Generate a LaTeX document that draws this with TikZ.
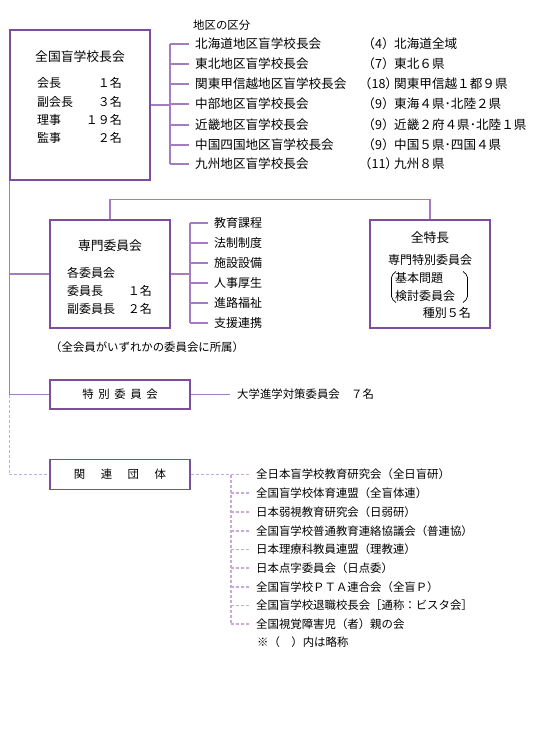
\documentclass[tikz,border=0pt]{standalone}
\usepackage{fontspec}
\setmainfont{Noto Sans CJK JP}
\definecolor{boxc}{HTML}{7E4E9E}
\definecolor{linec}{HTML}{A57BC1}
\definecolor{dashc}{HTML}{C9A9D9}
\begin{document}
\begin{tikzpicture}[x=1pt,y=-1pt, font=\fontsize{11.4}{13}\selectfont,
  box/.style={draw=boxc, line width=1.1pt, inner sep=0pt},
  ln/.style={draw=linec, line width=1.2pt},
  dl/.style={draw=dashc, line width=1.1pt, dash pattern=on 3pt off 2pt},
  txt/.style={inner sep=0pt, text height=9.8pt, text depth=1.4pt},
  lbl/.style={txt, anchor=west},
  lblr/.style={txt, anchor=east},
  ttl/.style={font=\fontsize{12.8}{14}\selectfont},
  itm/.style={font=\fontsize{12}{14}\selectfont},
  dst/.style={font=\fontsize{12.6}{14}\selectfont}]
\useasboundingbox (0,0) rectangle (540,730);
\fill[white] (0,0) rectangle (540,730);

% ---- main box
\node[box, minimum width=140pt, minimum height=150pt] (main) at (80,105) {};
\node[txt, ttl] (mt) at (80,57) {全国盲学校長会};
\node[lbl, itm] (m1) at (37,83) {会長};   \node[lblr, itm] (m1n) at (122,83) {１名};
\node[lbl, itm] (m2) at (37,102) {副会長}; \node[lblr, itm] (m2n) at (122,102) {３名};
\node[lbl, itm] (m3) at (37,120) {理事};   \node[lblr, itm] (m3n) at (122,120) {１９名};
\node[lbl, itm] (m4) at (37,138) {監事};   \node[lblr, itm] (m4n) at (122,138) {２名};

% ---- districts
\node[lbl] (dh) at (193,25) {地区の区分};
\coordinate (bus1) at (170,0);
\foreach \i/\y/\n/\p/\r in {
  1/44/北海道地区盲学校長会/（4）/北海道全域,
  2/64/東北地区盲学校長会/（7）/東北６県,
  3/84/関東甲信越地区盲学校長会/（18）/関東甲信越１都９県,
  4/104/中部地区盲学校長会/（9）/東海４県･北陸２県,
  5/125/近畿地区盲学校長会/（9）/近畿２府４県･北陸１県,
  6/145/中国四国地区盲学校長会/（9）/中国５県･四国４県,
  7/164/九州地区盲学校長会/（11）/九州８県}{
  \node[lbl, dst] (d\i) at (195,\y) {\n};
  \node[txt, dst] (dp\i) at (378.5,\y) {\p};
  \node[lbl, dst] (dr\i) at (394,\y) {\r};
  \draw[ln] (d\i.west -| bus1) -- ([xshift=-6pt]d\i.west);
}
\draw[ln] (d1.west -| bus1) -- (d7.west -| bus1);
\draw[ln] (main.east) -- (main.east -| bus1);

% ---- senmon iinkai
\node[box, minimum width=120pt, minimum height=108pt] (senmon) at (110,274) {};
\node[txt, ttl] (st) at (110,246) {専門委員会};
\node[lbl, itm] (s1) at (67,273) {各委員会};
\node[lbl, itm] (s2) at (67,291) {委員長};   \node[lblr, itm] (s2n) at (152,291) {１名};
\node[lbl, itm] (s3) at (67,309) {副委員長}; \node[lblr, itm] (s3n) at (152,309) {２名};
\node[lbl] (snote) at (50,347) {（全会員がいずれかの委員会に所属）};

\coordinate (bus2) at (190,0);
\foreach \i/\y/\n in {1/223/教育課程,2/243/法制制度,3/263/施設設備,4/283/人事厚生,5/303/進路福祉,6/323/支援連携}{
  \node[lbl, itm] (e\i) at (214,\y) {\n};
  \draw[ln] (e\i.west -| bus2) -- ([xshift=-6pt]e\i.west);
}
\draw[ln] (e1.west -| bus2) -- (e6.west -| bus2);
\draw[ln] (senmon.east) -- (senmon.east -| bus2);

% ---- zentokucho
\node[box, minimum width=120pt, minimum height=108pt] (zt) at (430,274) {};
\node[txt, ttl] (z1) at (430,238) {全特長};
\node[txt, itm] (z2) at (430,260) {専門特別委員会};
\node[lbl, itm] (z3) at (395,278) {基本問題};
\node[lbl, itm] (z4) at (395,296) {検討委員会};
\node[lblr, itm] (z5) at (471,313) {種別５名};
\draw[black, line width=0.7pt, rounded corners=2pt] (396,271.5) -- (391.5,275.5) -- (391.5,298.5) -- (396,302.5);
\draw[black, line width=0.7pt, rounded corners=2pt] (463,271.5) -- (467.5,275.5) -- (467.5,298.5) -- (463,302.5);

\draw[ln] (senmon.north) -- ++(0,-20) -| (zt.north);

% ---- tokubetsu iinkai
\node[box, minimum width=140pt, minimum height=29pt] (tk) at (120,394.5) {};
\node[txt] (tkt) at (120,394.5) {特\kern4.6pt 別\kern4.6pt 委\kern4.6pt 員\kern4.6pt 会};
\node[lbl] (dai) at (237,394.5) {大学進学対策委員会　７名};
\draw[ln] (tk.east) -- ([xshift=-7pt]dai.west);

% ---- kanren dantai
\node[box, minimum width=140pt, minimum height=30pt] (kr) at (120,474.5) {};
\node[txt] (krt) at (120,474.5) {関\kern15.5pt 連\kern15.5pt 団\kern15.5pt 体};

\coordinate (bus3) at (231,0);
\foreach \i/\y/\n in {
  1/474.5/全日本盲学校教育研究会（全日盲研）,
  2/493/全国盲学校体育連盟（全盲体連）,
  3/512/日本弱視教育研究会（日弱研）,
  4/531/全国盲学校普通教育連絡協議会（普連協）,
  5/549.5/日本理療科教員連盟（理教連）,
  6/568/日本点字委員会（日点委）,
  7/587/全国盲学校ＰＴＡ連合会（全盲Ｐ）,
  8/605.5/全国盲学校退職校長会［通称：ビスタ会］,
  9/624/全国視覚障害児（者）親の会}{
  \node[lbl] (k\i) at (256,\y) {\n};
}
\foreach \i in {2,...,9}{
  \draw[dl] (k\i.west -| bus3) -- ([xshift=-6pt]k\i.west);
}
\draw[dl] (kr.east) -- ([xshift=-6pt]k1.west);
\draw[dl] (k1.west -| bus3) -- (k9.west -| bus3);
\node[lbl] (knote) at (257,642) {※（　）内は略称};

% ---- trunk on the left
\draw[ln] (main.south west) -- (tk.west -| main.south west) -- (tk.west);
\draw[ln] (senmon.west -| main.south west) -- (senmon.west);
\draw[dl] (tk.west -| main.south west) -- (kr.west -| main.south west) -- (kr.west);
\end{tikzpicture}
\end{document}
